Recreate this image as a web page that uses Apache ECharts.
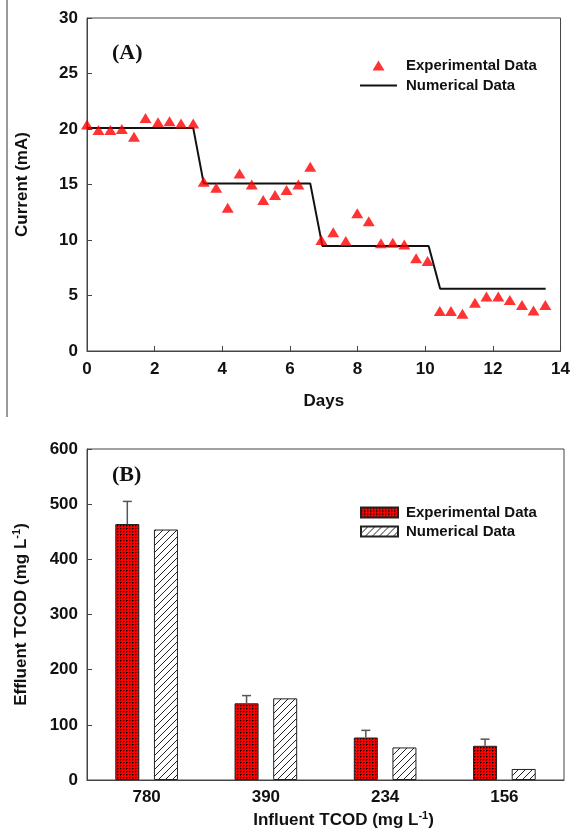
<!DOCTYPE html>
<html><head><meta charset="utf-8">
<script src="https://cdn.jsdelivr.net/npm/echarts@6/dist/echarts.min.js"></script>
<style>html,body{margin:0;padding:0;background:#fff}#c{width:573px;height:832px}</style>
</head><body><div id="c"></div>
<script>
// ---- Panel A data ----
const days = [0, 0.34, 0.69, 1.03, 1.39, 1.73, 2.1, 2.44, 2.78, 3.14,
  3.45, 3.82, 4.16, 4.51, 4.87, 5.21, 5.56, 5.9, 6.25, 6.6,
  6.93, 7.28, 7.65, 7.99, 8.33, 8.69, 9.04, 9.38, 9.73, 10.07,
  10.43, 10.76, 11.1, 11.47, 11.81, 12.16, 12.5, 12.86, 13.2, 13.55];
const currentExp = [20.4, 19.9, 19.9, 20.0, 19.3, 21.0, 20.6, 20.7, 20.5, 20.5,
  15.25, 14.7, 12.9, 16.0, 15.0, 13.6, 14.05, 14.5, 15.0, 16.6,
  10.0, 10.7, 9.9, 12.4, 11.7, 9.7, 9.75, 9.6, 8.35, 8.1,
  3.6, 3.6, 3.35, 4.35, 4.9, 4.9, 4.6, 4.15, 3.65, 4.15];
const numDays = [0, 3.14, 3.45, 6.6, 6.96, 10.1, 10.44, 13.56];
const numCurrent = [20.1, 20.1, 15.1, 15.1, 9.45, 9.45, 5.6, 5.6];

// ---- Panel B data ----
const influent = ['780', '390', '234', '156'];
const effExp = [464, 139, 77, 62];
const effErr = [41, 14, 13, 12];
const effNum = [454, 148, 59, 20];

const FONT = "'Liberation Sans', Arial, sans-serif";
const SERIF = "'Liberation Serif', 'Times New Roman', serif";
const AX = '#444';
const TXT = '#111';

function dotPattern() {
  const c = document.createElement('canvas'); c.width = 3; c.height = 3;
  const g = c.getContext('2d');
  g.fillStyle = '#ff0000'; g.fillRect(0, 0, 3, 3);
  g.fillStyle = '#000'; g.fillRect(0, 0, 1, 1);
  g.fillStyle = '#8a0000'; g.fillRect(1, 0, 1, 1); g.fillRect(0, 1, 1, 1);
  return c;
}
function hatchPattern() {
  const c = document.createElement('canvas'); c.width = 7; c.height = 7;
  const g = c.getContext('2d');
  g.fillStyle = '#fff'; g.fillRect(0, 0, 7, 7);
  g.strokeStyle = '#222'; g.lineWidth = 1;
  g.beginPath();
  g.moveTo(0, 7); g.lineTo(7, 0);
  g.moveTo(-1, 1); g.lineTo(1, -1);
  g.moveTo(6, 8); g.lineTo(8, 6);
  g.stroke();
  return c;
}

const BAR_W = 24, BAR_GAP = 0.61;
const EXP_OFFSET = -(BAR_W + BAR_W * BAR_GAP) / 2;

const tickLabel = { fontFamily: FONT, fontWeight: 'bold', fontSize: 17, color: TXT };
const nameStyle = { fontFamily: FONT, fontWeight: 'bold', fontSize: 17, color: TXT };
const supRich = {
  t: { fontFamily: FONT, fontWeight: 'bold', fontSize: 17, color: TXT },
  s: { fontFamily: FONT, fontWeight: 'bold', fontSize: 11, color: TXT, padding: [0, 0, 9, 0] }
};

const chart = echarts.init(document.getElementById('c'), null, { renderer: 'canvas' });
chart.setOption({
  animation: false,
  backgroundColor: '#fff',
  grid: [
    { left: 87, right: 10, top: 18, height: 333, show: true, borderColor: AX, borderWidth: 1 },
    { left: 87, right: 9, top: 449, height: 331, show: true, borderColor: AX, borderWidth: 1 }
  ],
  xAxis: [
    { gridIndex: 0, type: 'value', min: 0, max: 14, interval: 2,
      axisLine: { lineStyle: { color: AX } },
      axisTick: { inside: true, length: 5, lineStyle: { color: AX } },
      axisLabel: Object.assign({ margin: 10 }, tickLabel),
      splitLine: { show: false },
      name: 'Days', nameLocation: 'middle', nameGap: 42, nameTextStyle: nameStyle },
    { gridIndex: 1, type: 'category', data: influent,
      axisLine: { lineStyle: { color: AX } },
      axisTick: { show: false },
      axisLabel: Object.assign({ margin: 9 }, tickLabel),
      name: '{t|Influent TCOD (mg L}{s|-1}{t|)}', nameLocation: 'middle', nameGap: 30,
      nameTextStyle: { rich: supRich, padding: [0, 0, 0, 36] } }
  ],
  yAxis: [
    { gridIndex: 0, type: 'value', min: 0, max: 30, interval: 5,
      axisLine: { show: true, lineStyle: { color: AX } },
      axisTick: { show: true, inside: true, length: 5, lineStyle: { color: AX } },
      axisLabel: Object.assign({ margin: 9 }, tickLabel),
      splitLine: { show: false },
      name: 'Current (mA)', nameLocation: 'middle', nameGap: 56, nameTextStyle: nameStyle },
    { gridIndex: 1, type: 'value', min: 0, max: 600, interval: 100,
      axisLine: { show: true, lineStyle: { color: AX } },
      axisTick: { show: true, inside: true, length: 5, lineStyle: { color: AX } },
      axisLabel: Object.assign({ margin: 9 }, tickLabel),
      splitLine: { show: false },
      name: '{t|Effluent TCOD (mg L}{s|-1}{t|)}', nameLocation: 'middle', nameGap: 56,
      nameTextStyle: { rich: supRich } }
  ],
  legend: [
    { left: 360, top: 58, orient: 'vertical', padding: 0, itemGap: 5,
      itemWidth: 37, itemHeight: 10,
      textStyle: { fontFamily: FONT, fontWeight: 'bold', fontSize: 15, color: TXT, padding: [0, 0, 0, 4] },
      data: [
        { name: 'Experimental Data', icon: 'path://M6,0 L12,10 L0,10 Z' },
        { name: 'Numerical Data', icon: 'path://M0,0 L37,0 L37,2 L0,2 Z', itemStyle: { color: '#111' } }
      ] },
    { left: 360, top: 505, orient: 'vertical', padding: 0, itemGap: 4,
      itemWidth: 37, itemHeight: 10,
      formatter: n => n.replace(' (B)', ''),
      textStyle: { fontFamily: FONT, fontWeight: 'bold', fontSize: 15, color: TXT, padding: [0, 0, 0, 3] },
      data: [ { name: 'Experimental Data (B)', icon: 'rect' }, { name: 'Numerical Data (B)', icon: 'rect' } ] }
  ],
  series: [
    { name: 'Experimental Data', type: 'scatter', xAxisIndex: 0, yAxisIndex: 0,
      symbol: 'triangle', symbolSize: [12, 10],
      itemStyle: { color: '#ff0000' },
      data: days.map((d, i) => [d, currentExp[i]]), z: 3 },
    { name: 'Numerical Data', type: 'line', xAxisIndex: 0, yAxisIndex: 0,
      symbol: 'none', lineStyle: { color: '#111', width: 2 }, itemStyle: { color: '#111' },
      data: numDays.map((d, i) => [d, numCurrent[i]]), z: 2 },
    { name: 'Experimental Data (B)', type: 'bar', xAxisIndex: 1, yAxisIndex: 1,
      barWidth: BAR_W, barGap: (BAR_GAP * 100) + '%',
      itemStyle: { color: { image: dotPattern(), repeat: 'repeat' }, borderColor: '#222', borderWidth: 1 },
      data: effExp },
    { name: 'Numerical Data (B)', type: 'bar', xAxisIndex: 1, yAxisIndex: 1,
      barWidth: BAR_W, barGap: (BAR_GAP * 100) + '%',
      itemStyle: { color: { image: hatchPattern(), repeat: 'repeat' }, borderColor: '#222', borderWidth: 1 },
      data: effNum },
    { name: 'errors', type: 'custom', xAxisIndex: 1, yAxisIndex: 1, z: 5,
      encode: { x: 0, y: 1 },
      data: effExp.map((v, i) => [i, v, effErr[i]]),
      renderItem: function (params, api) {
        const i = api.value(0), v = api.value(1), e = api.value(2);
        const base = api.coord([i, v]);
        const top = api.coord([i, v + e]);
        const x = base[0] + EXP_OFFSET;
        const st = { stroke: '#555', lineWidth: 1.5 };
        return { type: 'group', children: [
          { type: 'line', shape: { x1: x, y1: base[1], x2: x, y2: top[1] }, style: st },
          { type: 'line', shape: { x1: x - 4.5, y1: top[1], x2: x + 4.5, y2: top[1] }, style: st }
        ] };
      } }
  ],
  graphic: [
    { type: 'line', shape: { x1: 7, y1: 0, x2: 7, y2: 417 }, style: { stroke: '#999', lineWidth: 2 } },
    { type: 'text', left: 112, top: 42, style: { text: '(A)', font: "bold 22px " + SERIF, fill: '#111' } },
    { type: 'text', left: 112, top: 464, style: { text: '(B)', font: "bold 22px " + SERIF, fill: '#111' } }
  ]
});
</script>
</body></html>
